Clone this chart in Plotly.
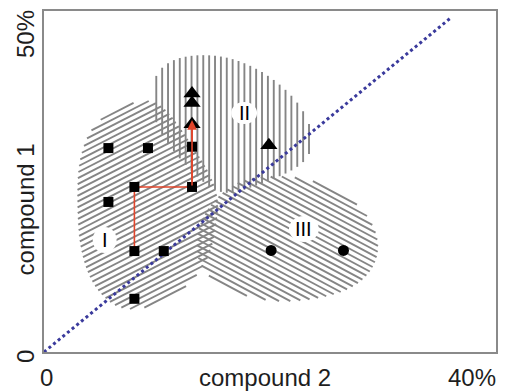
import numpy as np
import plotly.graph_objects as go

# ---------------- data ----------------
square_x = [5.7, 9.2, 13.1, 8.0, 13.1, 5.7, 8.0, 10.6, 8.0]
square_y = [29.9, 29.9, 30.1, 24.2, 24.2, 22.0, 14.8, 14.8, 7.8]
triangle_x = [13.1, 13.1, 13.1, 19.9]
triangle_y = [37.9, 36.5, 33.4, 30.3]
circle_x = [20.1, 26.5]
circle_y = [14.9, 14.9]
path_x = [8.0, 8.0, 13.1, 13.1]
path_y = [14.8, 24.2, 24.2, 34.0]
diag_x = [0, 36]
diag_y = [0, 49]

region1_x = [7.84, 10.22, 13.04, 15.51, 15.24, 14.36, 11.81, 7.40, 4.58, 3.17, 2.91, 3.08, 4.05, 5.64]
region1_y = [36.66, 36.95, 30.65, 23.75, 17.89, 12.76, 8.21, 5.57, 8.80, 14.66, 22.29, 28.15, 32.55, 35.04]
region2_x = [9.60, 11.10, 13.74, 16.83, 19.91, 22.38, 23.61, 23.79, 22.56, 19.03, 15.68, 12.86, 10.66, 9.60]
region2_y = [40.18, 42.82, 43.70, 43.11, 40.62, 36.95, 33.28, 29.62, 26.98, 24.49, 22.73, 26.69, 31.09, 34.75]
region3_x = [14.19, 15.95, 18.15, 22.56, 26.08, 28.55, 29.78, 29.07, 26.78, 22.56, 18.85, 15.51, 13.74, 13.39]
region3_y = [20.53, 23.75, 25.66, 25.81, 23.75, 20.53, 15.98, 11.73, 8.80, 7.33, 7.62, 9.68, 12.61, 16.42]

region_labels = ["I", "II", "III"]
label_x = [5.37, 17.71, 23.0]
label_y = [16.42, 35.04, 18.04]

# ---------------- layout constants ----------------
W, H = 505, 391
ML, MR, MT, MB = 44, 7, 11, 39
XR, YR = 40, 50
SX = (W - ML - MR) / XR
SY = (H - MT - MB) / YR
FONT = "Liberation Sans, Arial, sans-serif"
HATCH_COLOR = "#858585"


def chaikin(u, v, n=3):
    pts = np.column_stack([u, v])
    for _ in range(n):
        q = 0.75 * pts + 0.25 * np.roll(pts, -1, axis=0)
        r = 0.25 * pts + 0.75 * np.roll(pts, -1, axis=0)
        pts = np.empty((2 * len(q), 2))
        pts[0::2] = q
        pts[1::2] = r
    return pts[:, 0], pts[:, 1]


def hatch(xs, ys, angle_deg, spacing):
    u, v = chaikin(np.array(xs) * SX, np.array(ys) * SY)
    th = np.radians(angle_deg)
    d = np.array([np.cos(th), np.sin(th)])
    nrm = np.array([-np.sin(th), np.cos(th)])
    proj = u * nrm[0] + v * nrm[1]
    n = len(u)
    X, Y = [], []
    c = proj.min() + spacing / 2
    while c < proj.max():
        hits = []
        for i in range(n):
            j = (i + 1) % n
            a, b = proj[i] - c, proj[j] - c
            if a * b < 0:
                t = a / (a - b)
                pu = u[i] + t * (u[j] - u[i])
                pv = v[i] + t * (v[j] - v[i])
                hits.append((pu * d[0] + pv * d[1], pu, pv))
        hits.sort()
        for k in range(0, len(hits) - 1, 2):
            X += [hits[k][1] / SX, hits[k + 1][1] / SX, None]
            Y += [hits[k][2] / SY, hits[k + 1][2] / SY, None]
        c += spacing
    return X, Y


fig = go.Figure()

for rx, ry, ang, sp in [(region1_x, region1_y, 27, 5.2),
                        (region2_x, region2_y, 90, 5.9),
                        (region3_x, region3_y, -28, 5.3)]:
    hx, hy = hatch(rx, ry, ang, sp)
    fig.add_trace(go.Scatter(x=hx, y=hy, mode="lines",
                             line=dict(color=HATCH_COLOR, width=1.9),
                             hoverinfo="skip", showlegend=False))

# diagonal
fig.add_trace(go.Scatter(x=diag_x, y=diag_y, mode="lines",
                         line=dict(color="#3a3a9c", width=3, dash="3px,3px"),
                         showlegend=False))
# red path
fig.add_trace(go.Scatter(x=path_x, y=path_y, mode="lines",
                         line=dict(color="#e2452b", width=1.6),
                         showlegend=False))
# markers
fig.add_trace(go.Scatter(x=square_x, y=square_y, mode="markers",
                         marker=dict(symbol="square", size=10, color="black"),
                         showlegend=False))
fig.add_trace(go.Scatter(x=triangle_x, y=triangle_y, mode="markers",
                         marker=dict(symbol="triangle-up", size=15, color="black"),
                         showlegend=False))
fig.add_trace(go.Scatter(x=circle_x, y=circle_y, mode="markers",
                         marker=dict(symbol="circle", size=11, color="black"),
                         showlegend=False))

shapes = []
annotations = []
pad = [(12, 13), (13, 11), (15, 13)]
for lab, lx, ly, (px, py) in zip(region_labels, label_x, label_y, pad):
    shapes.append(dict(type="circle", xref="x", yref="y",
                       x0=lx - px / SX, x1=lx + px / SX,
                       y0=ly - py / SY, y1=ly + py / SY,
                       fillcolor="white", line=dict(width=0), layer="above"))
    annotations.append(dict(x=lx, y=ly, xref="x", yref="y", text=lab,
                            showarrow=False,
                            font=dict(family=FONT, size=20, color="black")))

# arrow head on the red path
annotations.append(dict(x=path_x[-1], y=path_y[-1], ax=path_x[-2], ay=path_y[-2],
                        xref="x", yref="y", axref="x", ayref="y", text="",
                        showarrow=True, arrowhead=2, arrowsize=1.2,
                        arrowwidth=1.6, arrowcolor="#e2452b"))

tf = dict(family=FONT, size=24, color="#1e1e1e")
annotations += [
    dict(text="0", x=0, y=0, xref="paper", yref="paper", xanchor="center",
         yanchor="middle", xshift=2.5, yshift=-25, showarrow=False, font=tf),
    dict(text="40%", x=1, y=0, xref="paper", yref="paper", xanchor="right",
         yanchor="middle", xshift=2, yshift=-25, showarrow=False, font=tf),
    dict(text="compound 2", x=0.488, y=0, xref="paper", yref="paper",
         xanchor="center", yanchor="middle", yshift=-25, showarrow=False, font=tf),
    dict(text="0", x=0, y=0, xref="paper", yref="paper", xanchor="center",
         yanchor="middle", xshift=-19, yshift=-5, textangle=-90,
         showarrow=False, font=tf),
    dict(text="50%", x=0, y=1, xref="paper", yref="paper", xanchor="center",
         yanchor="top", xshift=-19, yshift=3, textangle=-90,
         showarrow=False, font=tf),
    dict(text="compound 1", x=0, y=0.418, xref="paper", yref="paper",
         xanchor="center", yanchor="middle", xshift=-19, textangle=-90,
         showarrow=False, font=tf),
]

axis_common = dict(showgrid=False, zeroline=False, showticklabels=False,
                   ticks="", showline=True, mirror=True,
                   linecolor="#8a8a8a", linewidth=2)
fig.update_layout(
    width=W, height=H,
    margin=dict(l=ML, r=MR, t=MT, b=MB),
    paper_bgcolor="white", plot_bgcolor="white",
    xaxis=dict(range=[0, XR], **axis_common),
    yaxis=dict(range=[0, YR], **axis_common),
    shapes=shapes, annotations=annotations,
    showlegend=False,
)

fig.write_html("out.html")
